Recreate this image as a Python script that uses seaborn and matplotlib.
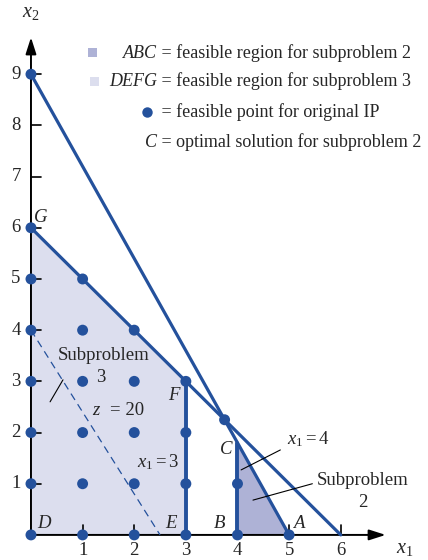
import matplotlib
matplotlib.use("Agg")
import matplotlib.pyplot as plt
import seaborn as sns
import pandas as pd
from matplotlib.patches import Polygon, FancyArrowPatch

sns.set_theme(style="white")
plt.rcParams['font.family'] = ['Liberation Serif', 'DejaVu Serif']
plt.rcParams['mathtext.fontset'] = 'custom'
plt.rcParams['mathtext.rm'] = 'Liberation Serif'
plt.rcParams['mathtext.it'] = 'Liberation Serif:italic'

# ---- data ----
ip_x1 = [0, 0, 0, 0, 0, 0, 0, 1, 1, 1, 1, 1, 1, 2, 2, 2, 2, 2, 3, 3, 3, 3, 4, 4, 5]
ip_x2 = [0, 1, 2, 3, 4, 5, 6, 0, 1, 2, 3, 4, 5, 0, 1, 2, 3, 4, 0, 1, 2, 3, 0, 1, 0]
extra_x1 = [0, 3.75]
extra_x2 = [9, 2.25]
c1_x1 = [0, 5]      # 9x1 + 5x2 = 45
c1_x2 = [9, 0]
c2_x1 = [0, 6]      # x1 + x2 = 6
c2_x2 = [6, 0]
b3_x1 = [3, 3]      # x1 = 3
b3_x2 = [0, 3]
b4_x1 = [4, 4]      # x1 = 4
b4_x2 = [0, 1.8]
z_x1 = [0, 2.5]     # z = 20
z_x2 = [4, 0]
defg = [(0, 0), (3, 0), (3, 3), (0, 6)]
abc = [(4, 0), (5, 0), (4, 1.8)]
xticks = [1, 2, 3, 4, 5, 6]
yticks = [1, 2, 3, 4, 5, 6, 7, 8, 9]

BLUE = '#24519c'
LIGHT = '#dcdeee'
DARK = '#aeb2d6'

fig = plt.figure(figsize=(4.28, 5.6), dpi=100)
ax = fig.add_axes([0, 0, 1, 1])
ax.set_xlim(-0.60, 7.69)
ax.set_ylim(-0.49, 10.45)
ax.axis('off')

ax.add_patch(Polygon(defg, closed=True, facecolor=LIGHT, edgecolor='none', zorder=1))
ax.add_patch(Polygon(abc, closed=True, facecolor=DARK, edgecolor='none', zorder=1))

# axes with arrows
astyle = '-|>,head_length=10,head_width=3.2'
ax.add_patch(FancyArrowPatch((0, 0), (6.87, 0), arrowstyle=astyle,
                             mutation_scale=1, color='black', lw=1.4, zorder=2, shrinkA=0, shrinkB=0))
ax.add_patch(FancyArrowPatch((0, 0), (0, 9.72), arrowstyle=astyle,
                             mutation_scale=1, color='black', lw=1.4, zorder=2, shrinkA=0, shrinkB=0))

fs = 13.5
# ticks
for t in yticks:
    ax.plot([0, 0.2], [t, t], color='black', lw=1.2, zorder=2)
    ax.text(-0.2, t, str(t), ha='right', va='center', fontsize=fs)
for t in xticks:
    ax.plot([t, t], [0, 0.2], color='black', lw=1.2, zorder=2)
    ax.text(t, -0.3, str(t), ha='center', va='center', fontsize=fs)

def seg(x, y, **kw):
    df = pd.DataFrame({'x': x, 'y': y})
    sns.lineplot(data=df, x='x', y='y', ax=ax, sort=False, estimator=None, legend=False, **kw)

seg(c1_x1, c1_x2, color=BLUE, lw=2.3, zorder=3)
seg(c2_x1, c2_x2, color=BLUE, lw=2.3, zorder=3)
seg(b3_x1, b3_x2, color=BLUE, lw=2.8, zorder=3)
seg(b4_x1, b4_x2, color=BLUE, lw=2.8, zorder=3)
seg(z_x1, z_x2, color=BLUE, lw=0.9, linestyle=(0, (6, 4)), zorder=3)

pts = pd.DataFrame({'x1': ip_x1 + extra_x1, 'x2': ip_x2 + extra_x2})
sns.scatterplot(data=pts, x='x1', y='x2', ax=ax, s=62, color=BLUE, edgecolor='none', zorder=4)
ax.set_xlabel('')
ax.set_ylabel('')

# vertex labels
ax.text(0.06, 6.03, 'G', style='italic', fontsize=fs, ha='left', va='bottom')
ax.text(0.12, 0.05, 'D', style='italic', fontsize=fs, ha='left', va='bottom')
ax.text(2.6, 0.05, 'E', style='italic', fontsize=fs, ha='left', va='bottom')
ax.text(2.66, 2.55, 'F', style='italic', fontsize=fs, ha='left', va='bottom')
ax.text(3.66, 1.5, 'C', style='italic', fontsize=fs, ha='left', va='bottom')
ax.text(3.55, 0.05, 'B', style='italic', fontsize=fs, ha='left', va='bottom')
ax.text(5.08, 0.05, 'A', style='italic', fontsize=fs, ha='left', va='bottom')
ax.text(7.07, -0.27, '$x_1$', fontsize=14.5, ha='left', va='center')
ax.text(0.0, 10.2, '$x_2$', fontsize=14.5, ha='center', va='center')

# annotations
ax.text(1.4, 3.5, 'Subproblem', fontsize=fs, ha='center', va='center')
ax.text(1.36, 3.08, '3', fontsize=fs, ha='center', va='center')
ax.plot([0.62, 0.37], [3.03, 2.6], color='black', lw=0.8, zorder=5)
ax.text(1.18, 2.44, '$z$', fontsize=fs, ha='left', va='center')
ax.text(1.53, 2.44, '= 20', fontsize=fs, ha='left', va='center')
ax.text(2.46, 1.42, '$x_1 = 3$', fontsize=fs, ha='center', va='center')
ax.text(5.37, 1.88, '$x_1 = 4$', fontsize=fs, ha='center', va='center')
ax.plot([4.83, 4.07], [1.66, 1.27], color='black', lw=0.8, zorder=5)
ax.text(6.42, 1.07, 'Subproblem', fontsize=fs, ha='center', va='center')
ax.text(6.42, 0.64, '2', fontsize=fs, ha='center', va='center')
ax.plot([5.45, 4.3], [1.0, 0.68], color='black', lw=0.8, zorder=5)

# legend rows (aligned on "=")
def px2x(px):
    return -0.60 + px / 428 * 8.29
def py2y(py):
    return 10.45 - py / 560 * 10.94

lfs = 13
eqx = px2x(157)
rows = [(53, 'ABC', ' = feasible region for subproblem 2'),
        (81, 'DEFG', ' = feasible region for subproblem 3'),
        (112, None, ' = feasible point for original IP'),
        (142, 'C', ' = optimal solution for subproblem 2')]
for py, lab, rest in rows:
    y = py2y(py)
    if lab:
        ax.text(eqx, y, lab, style='italic', fontsize=lfs, ha='right', va='center')
    ax.text(eqx, y, rest, fontsize=lfs, ha='left', va='center')
ax.add_patch(Polygon([(px2x(88), py2y(48)), (px2x(97), py2y(48)), (px2x(97), py2y(57)), (px2x(88), py2y(57))],
                     facecolor=DARK, edgecolor='none'))
ax.add_patch(Polygon([(px2x(90), py2y(77)), (px2x(99), py2y(77)), (px2x(99), py2y(86)), (px2x(90), py2y(86))],
                     facecolor=LIGHT, edgecolor='none'))
ax.plot([px2x(147)], [py2y(112)], 'o', color=BLUE, ms=7.5, mec='none')

fig.savefig('out.png', dpi=100)
